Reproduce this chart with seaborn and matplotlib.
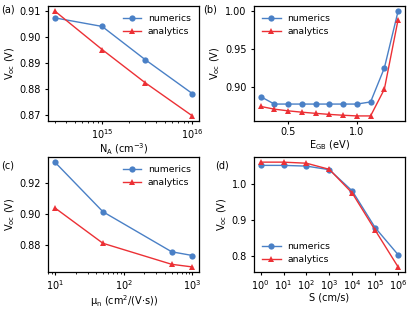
import numpy as np
import pandas as pd
import seaborn as sns
import matplotlib.pyplot as plt
from matplotlib.ticker import LogLocator

# (a) doping
na = [3e14, 1e15, 3e15, 1e16]
na_num = [0.9074, 0.9041, 0.8913, 0.8782]
na_ana = [0.9100, 0.8952, 0.8824, 0.8696]

# (b) grain boundary energy
egb = [0.3, 0.4, 0.5, 0.6, 0.7, 0.8, 0.9, 1.0, 1.1, 1.2, 1.3]
egb_num = [0.8876, 0.8778, 0.8778, 0.8778, 0.8778, 0.8778, 0.8778, 0.8778, 0.8806, 0.9252, 1.0000]
egb_ana = [0.8747, 0.8711, 0.8689, 0.8671, 0.8656, 0.8642, 0.8631, 0.8622, 0.8622, 0.8973, 0.9888]

# (c) mobility
mu = [10, 50, 500, 1000]
mu_num = [0.9336, 0.9015, 0.8756, 0.8732]
mu_ana = [0.9040, 0.8811, 0.8675, 0.8658]

# (d) surface recombination velocity
s = [1e0, 1e1, 1e2, 1e3, 1e4, 1e5, 1e6]
s_num = [1.052, 1.052, 1.050, 1.040, 0.981, 0.879, 0.804]
s_ana = [1.061, 1.061, 1.058, 1.041, 0.975, 0.872, 0.770]

couleurs = {"numerics": "#4a80c6", "analytics": "#ec3035"}
marqueurs = {"numerics": "o", "analytics": "^"}

plt.rcParams["font.size"] = 7
plt.rcParams["xtick.labelsize"] = 7
plt.rcParams["ytick.labelsize"] = 7
plt.rcParams["axes.labelsize"] = 7
plt.rcParams["xtick.major.size"] = 2.5
plt.rcParams["ytick.major.size"] = 2.5
plt.rcParams["xtick.minor.size"] = 1.5
plt.rcParams["xtick.major.pad"] = 2
plt.rcParams["ytick.major.pad"] = 2.5
plt.rcParams["axes.linewidth"] = 0.9


def tableau(x, num, ana):
    return pd.DataFrame({
        "x": list(x) + list(x),
        "Voc": list(num) + list(ana),
        "methode": ["numerics"] * len(x) + ["analytics"] * len(x),
    })


fig, axes = plt.subplots(2, 2, figsize=(4.07, 3.10), dpi=100)
plt.subplots_adjust(left=0.118, right=0.995, top=0.981, bottom=0.122,
                    wspace=0.36, hspace=0.31)

panneaux = [
    (axes[0, 0], tableau(na, na_num, na_ana), r"N$_{\rm A}$ (cm$^{-3}$)", True, "upper right"),
    (axes[0, 1], tableau(egb, egb_num, egb_ana), r"E$_{\rm GB}$ (eV)", False, "upper left"),
    (axes[1, 0], tableau(mu, mu_num, mu_ana), r"μ$_{\rm n}$ (cm$^2$/(V$\cdot$s))", True, "upper right"),
    (axes[1, 1], tableau(s, s_num, s_ana), "S (cm/s)", True, "lower left"),
]

for ax, df, xlabel, logx, loc in panneaux:
    sns.lineplot(data=df, x="x", y="Voc", hue="methode", style="methode",
                 palette=couleurs, markers=marqueurs, dashes=False,
                 markersize=4.5, linewidth=1.0, markeredgewidth=0, ax=ax)
    if logx:
        ax.set_xscale("log")
    ax.set_xlabel(xlabel, labelpad=0.5)
    ax.set_ylabel(r"V$_{\rm oc}$ (V)", labelpad=2)
    ax.legend(loc=loc, frameon=False, fontsize=6.7, handlelength=2.0,
              borderaxespad=0.5, labelspacing=0.4, handletextpad=0.7)

axes[0, 0].set_yticks([0.87, 0.88, 0.89, 0.90, 0.91])
axes[0, 1].set_yticks([0.90, 0.95, 1.00])
axes[0, 1].set_xticks([0.5, 1.0])
axes[1, 0].set_yticks([0.88, 0.90, 0.92])
axes[1, 1].set_yticks([0.8, 0.9, 1.0])
axes[1, 1].xaxis.set_major_locator(LogLocator(base=10, numticks=10))

# lettres des panneaux, en pixels de la figure
for lettre, px, py in [("(a)", 1, 10), ("(b)", 203, 10), ("(c)", 1, 166), ("(d)", 215, 166)]:
    fig.text(px / 407, 1 - py / 310, lettre, fontsize=7, va="center", ha="left")

plt.savefig("out.png", dpi=100)
plt.close()
